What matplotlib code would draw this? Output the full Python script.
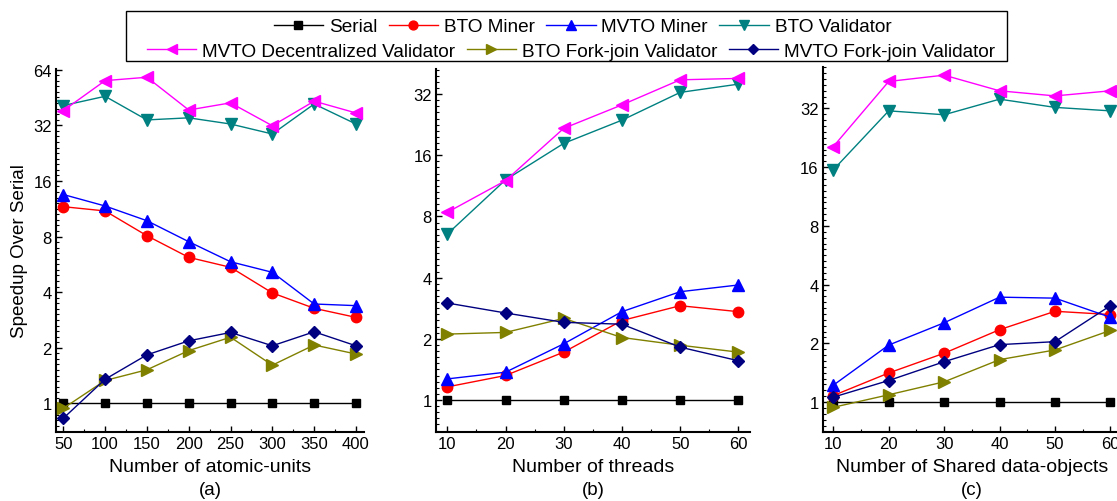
import numpy as np
import matplotlib
matplotlib.use("Agg")
import matplotlib.pyplot as plt
from matplotlib.ticker import FixedLocator, FixedFormatter, NullFormatter
from matplotlib.patches import Rectangle

plt.rcParams['font.family'] = ['Liberation Sans', 'DejaVu Sans']

# ---- data ----
series_names = ["Serial", "BTO Miner", "MVTO Miner", "BTO Validator",
                "MVTO Decentralized Validator", "BTO Fork-join Validator",
                "MVTO Fork-join Validator"]

atomic_units = [50, 100, 150, 200, 250, 300, 350, 400]
a_serial = [1, 1, 1, 1, 1, 1, 1, 1]
a_bto_miner = [11.6, 11.0, 8.08, 6.17, 5.45, 3.96, 3.27, 2.92]
a_mvto_miner = [13.5, 11.7, 9.74, 7.50, 5.84, 5.12, 3.45, 3.38]
a_bto_validator = [40.9, 45.9, 34.2, 35.1, 32.5, 28.7, 41.7, 32.5]
a_mvto_dec_validator = [38.4, 55.8, 58.2, 38.7, 42.3, 31.8, 43.2, 37.3]
a_bto_fj_validator = [0.94, 1.33, 1.52, 1.93, 2.28, 1.61, 2.07, 1.85]
a_mvto_fj_validator = [0.83, 1.35, 1.83, 2.18, 2.42, 2.05, 2.44, 2.05]

threads = [10, 20, 30, 40, 50, 60]
b_serial = [1, 1, 1, 1, 1, 1]
b_bto_miner = [1.16, 1.32, 1.72, 2.46, 2.91, 2.72]
b_mvto_miner = [1.27, 1.37, 1.89, 2.72, 3.41, 3.68]
b_bto_validator = [6.55, 12.1, 18.3, 23.8, 32.6, 35.8]
b_mvto_dec_validator = [8.38, 12.0, 21.7, 28.3, 37.6, 38.2]
b_bto_fj_validator = [2.11, 2.15, 2.52, 2.03, 1.86, 1.72]
b_mvto_fj_validator = [3.00, 2.68, 2.41, 2.36, 1.82, 1.56]

shared_objects = [10, 20, 30, 40, 50, 60]
c_serial = [1, 1, 1, 1, 1, 1]
c_bto_miner = [1.08, 1.41, 1.78, 2.35, 2.92, 2.81]
c_mvto_miner = [1.22, 1.96, 2.55, 3.45, 3.41, 2.72]
c_bto_validator = [15.5, 31.1, 29.7, 35.7, 32.4, 31.1]
c_mvto_dec_validator = [20.4, 44.0, 47.4, 39.4, 37.1, 39.4]
c_bto_fj_validator = [0.94, 1.09, 1.27, 1.65, 1.85, 2.33]
c_mvto_fj_validator = [1.06, 1.29, 1.61, 1.97, 2.04, 3.12]

y_ticks = [1, 2, 4, 8, 16, 32, 64]

# ---- styles ----
styles = [
    dict(color="black", marker="s", ms=6),
    dict(color="#FF0000", marker="o", ms=7.5),
    dict(color="#0000FF", marker="^", ms=8.5),
    dict(color="#008080", marker="v", ms=8.5),
    dict(color="#FF00FF", marker="<", ms=8.5),
    dict(color="#808000", marker=">", ms=8.5),
    dict(color="#000080", marker="D", ms=6.5),
]

panels = [
    dict(x=atomic_units,
         ys=[a_serial, a_bto_miner, a_mvto_miner, a_bto_validator,
             a_mvto_dec_validator, a_bto_fj_validator, a_mvto_fj_validator],
         xlabel="Number of atomic-units", tag="(a)",
         rect=[56, 70, 364, 433], xlim=(41.3, 409.6), ylim=(0.70, 64.5)),
    dict(x=threads,
         ys=[b_serial, b_bto_miner, b_mvto_miner, b_bto_validator,
             b_mvto_dec_validator, b_bto_fj_validator, b_mvto_fj_validator],
         xlabel="Number of threads", tag="(b)",
         rect=[436, 70, 750, 433], xlim=(8.06, 62.0), ylim=(0.696, 42.5)),
    dict(x=shared_objects,
         ys=[c_serial, c_bto_miner, c_mvto_miner, c_bto_validator,
             c_mvto_dec_validator, c_bto_fj_validator, c_mvto_fj_validator],
         xlabel="Number of Shared data-objects", tag="(c)",
         rect=[822.7, 68.3, 1121.5, 433.3], xlim=(8.09, 62.0), ylim=(0.70, 52.0)),
]

W, H = 1117, 502
fig = plt.figure(figsize=(W / 100, H / 100), dpi=100)

handles = None
for i, p in enumerate(panels):
    x0, y0, x1, y1 = p["rect"]
    ax = fig.add_axes([x0 / W, 1 - y1 / H, (x1 - x0) / W, (y1 - y0) / H])
    lines = []
    for name, ys, st in zip(series_names, p["ys"], styles):
        ln, = ax.plot(p["x"], ys, color=st["color"], marker=st["marker"],
                      ms=st["ms"], lw=1.0, mec=st["color"], mfc=st["color"],
                      label=name, clip_on=False, zorder=3)
        lines.append(ln)
    if handles is None:
        handles = lines
    ax.set_yscale("log", base=2)
    ax.set_xlim(*p["xlim"])
    ax.set_ylim(*p["ylim"])
    ax.yaxis.set_major_locator(FixedLocator(y_ticks))
    ax.yaxis.set_major_formatter(FixedFormatter([str(t) for t in y_ticks]))
    minor = [2 ** (k + j / 10) for k in range(-1, 7) for j in range(1, 10)]
    ax.yaxis.set_minor_locator(FixedLocator(minor))
    ax.yaxis.set_minor_formatter(NullFormatter())
    xs = p["x"]
    step = xs[1] - xs[0]
    ax.xaxis.set_major_locator(FixedLocator(xs))
    ax.xaxis.set_minor_locator(FixedLocator([v + step / 2 for v in xs[:-1]]
                                            + [xs[0] - step / 2]))
    for s in ("top", "right"):
        ax.spines[s].set_visible(False)
    for s in ("left", "bottom"):
        ax.spines[s].set_linewidth(1.5)
    ax.tick_params(axis="both", which="major", direction="in", length=4,
                   width=1.0, labelsize=12, pad=3)
    ax.tick_params(axis="both", which="minor", direction="in", length=2,
                   width=0.8)
    ax.set_xlabel(p["xlabel"], fontsize=14, labelpad=5)
    cx = (x0 + x1) / 2
    fig.text(cx / W, 1 - 491 / H, p["tag"], ha="center", va="center",
             fontsize=13.5)
    if i == 0:
        ax.set_ylabel("Speedup Over Serial", fontsize=13.5, labelpad=4)

# two-row legend inside one frame
leg_kw = dict(frameon=False, fontsize=13.7, handlelength=2.6,
              handletextpad=0.3, columnspacing=0.6, borderpad=0,
              borderaxespad=0, loc="center", markerscale=0.85)
fig.legend(handles[:4], series_names[:4], ncol=4,
           bbox_to_anchor=(582.5 / W, 1 - 27.5 / H), **leg_kw)
fig.legend(handles[4:], series_names[4:], ncol=3,
           bbox_to_anchor=(571 / W, 1 - 52 / H), **leg_kw)
fig.add_artist(Rectangle((126 / W, 1 - 62 / H), 881 / W, 50 / H,
                         transform=fig.transFigure, fill=False,
                         edgecolor="black", lw=1.0))

fig.savefig("out.png", dpi=100)
